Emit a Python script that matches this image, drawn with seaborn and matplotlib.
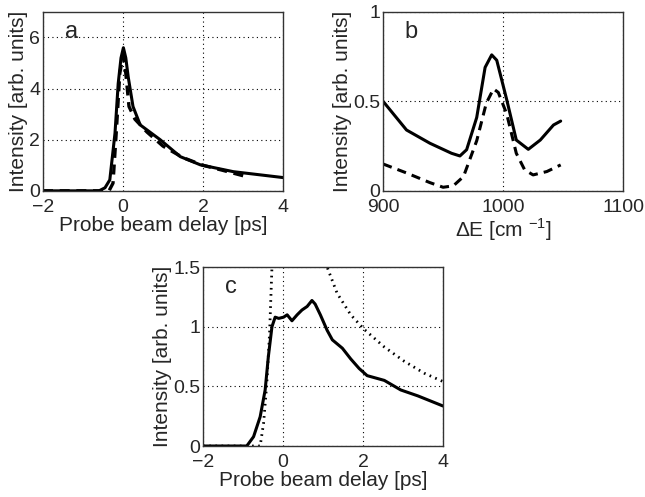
import numpy as np
import pandas as pd
import seaborn as sns
import matplotlib.pyplot as plt

# ---- panel a: delay scans ----
a_solid_x = [-2.0, -0.6, -0.45, -0.33, -0.2, -0.12, -0.05, 0.01, 0.07, 0.13, 0.25, 0.43, 0.93, 1.43, 1.93, 2.76, 4.0]
a_solid_y = [0.0, 0.0, 0.12, 0.43, 2.26, 4.2, 5.2, 5.6, 5.2, 4.46, 3.3, 2.58, 2.0, 1.34, 1.02, 0.75, 0.52]
a_dash_x = [-2.0, -0.35, -0.25, -0.16, -0.08, 0.0, 0.07, 0.15, 0.3, 0.6, 1.0, 1.5, 2.0, 2.5, 3.1]
a_dash_y = [0.0, 0.0, 0.3, 2.5, 4.6, 5.3, 4.6, 3.3, 2.8, 2.3, 1.75, 1.3, 1.0, 0.8, 0.55]

# ---- panel b: spectra ----
b_solid_x = [900, 919.5, 939, 957, 964, 969.6, 978, 985, 990.5, 994.7, 1003, 1011, 1021, 1031, 1042, 1048]
b_solid_y = [0.50, 0.34, 0.266, 0.21, 0.195, 0.23, 0.41, 0.69, 0.76, 0.73, 0.51, 0.284, 0.232, 0.284, 0.368, 0.39]
b_dash_x = [900, 919.5, 939, 950, 958.5, 967, 978, 986, 992, 996, 1003, 1011, 1018, 1025, 1036.5, 1048]
b_dash_y = [0.15, 0.10, 0.046, 0.02, 0.028, 0.08, 0.28, 0.49, 0.57, 0.55, 0.43, 0.21, 0.117, 0.089, 0.108, 0.145]

# ---- panel c: delay scan + dotted reference ----
c_solid_x = [-2.0, -0.91, -0.74, -0.575, -0.45, -0.37, -0.28, -0.2, -0.11, 0.01, 0.1, 0.22, 0.35, 0.47, 0.6, 0.72,
             0.8, 0.93, 1.1, 1.23, 1.48, 1.69, 1.9, 2.1, 2.53, 2.94, 3.37, 4.0]
c_solid_y = [0.0, 0.0, 0.078, 0.245, 0.47, 0.75, 1.0, 1.08, 1.07, 1.08, 1.1, 1.05, 1.1, 1.14, 1.17, 1.22,
             1.19, 1.1, 0.97, 0.89, 0.82, 0.73, 0.65, 0.59, 0.55, 0.47, 0.42, 0.335]
c_dot_x = [-2.0, -0.575, -0.49, -0.41, -0.34, -0.28, -0.2, 1.0, 1.1, 1.35, 1.69, 2.02, 2.53, 3.03, 3.53, 4.0]
c_dot_y = [0.0, 0.0, 0.19, 0.52, 0.94, 1.5, 2.2, 1.7, 1.5, 1.28, 1.1, 0.98, 0.83, 0.71, 0.61, 0.54]

sns.set_theme(style="white")
plt.rcParams['font.family'] = ['Liberation Sans', 'DejaVu Sans']
plt.rcParams['font.size'] = 15
plt.rcParams['axes.edgecolor'] = '#333333'
plt.rcParams['mathtext.fontset'] = 'custom'
plt.rcParams['mathtext.rm'] = 'Liberation Sans'

fig = plt.figure(figsize=(6.45, 4.97), dpi=100)
ax_a = fig.add_axes([0.0667, 0.616, 0.372, 0.36])
ax_b = fig.add_axes([0.594, 0.616, 0.372, 0.36])
ax_c = fig.add_axes([0.315, 0.1026, 0.372, 0.36])


def style(ax, xlim, ylim, xt, yt, xlabel, letter):
    ax.set_xlim(xlim)
    ax.set_ylim(ylim)
    ax.set_xticks(xt)
    ax.set_yticks(yt)
    ax.set_xticklabels([str(t).replace('-', '\u2212') for t in xt])
    ax.set_yticklabels([f"{t:g}" for t in yt])
    ax.tick_params(axis='y', length=0, labelsize=14, pad=2)
    ax.tick_params(axis='x', length=0, labelsize=14, pad=6)
    ax.grid(True, color='black', linestyle=(0, (1, 3)), linewidth=0.8)
    ax.set_axisbelow(True)
    ax.set_xlabel(xlabel, fontsize=15, labelpad=0)
    ax.set_ylabel('Intensity [arb. units]', fontsize=15, labelpad=1)
    ax.text(0.09, 0.95, letter, transform=ax.transAxes, fontsize=17, va='top')
    for s in ax.spines.values():
        s.set_linewidth(1.0)


sns.lineplot(x=a_solid_x, y=a_solid_y, ax=ax_a, color='black', linewidth=2.2, sort=False)
sns.lineplot(x=a_dash_x, y=a_dash_y, ax=ax_a, color='black', linewidth=2.4, sort=False,
             linestyle=(0, (3, 2)))
style(ax_a, (-2, 4), (0, 7), [-2, 0, 2, 4], [0, 2, 4, 6], 'Probe beam delay [ps]', 'a')

sns.lineplot(x=b_solid_x, y=b_solid_y, ax=ax_b, color='black', linewidth=2.2, sort=False)
sns.lineplot(x=b_dash_x, y=b_dash_y, ax=ax_b, color='black', linewidth=2.2, sort=False,
             linestyle=(0, (3, 2)))
style(ax_b, (900, 1100), (0, 1), [900, 1000, 1100], [0, 0.5, 1], '\u0394E [cm $^{-1}$]', 'b')

sns.lineplot(x=c_solid_x, y=c_solid_y, ax=ax_c, color='black', linewidth=2.2, sort=False)
sns.lineplot(x=c_dot_x, y=c_dot_y, ax=ax_c, color='black', linewidth=2.0, sort=False,
             linestyle=(0, (0.6, 1.6)))
style(ax_c, (-2, 4), (0, 1.5), [-2, 0, 2, 4], [0, 0.5, 1, 1.5], 'Probe beam delay [ps]', 'c')

fig.savefig('out.png', dpi=100)
